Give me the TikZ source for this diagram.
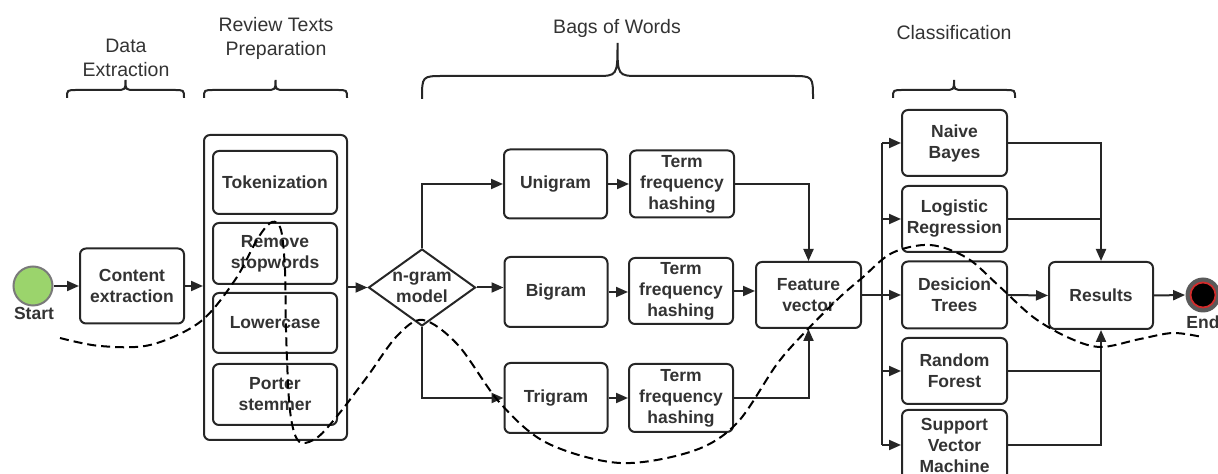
\documentclass[tikz,border=0pt]{standalone}
\usepackage{fontspec}
\setmainfont{Liberation Sans}
\usetikzlibrary{shapes.geometric,arrows.meta}

\definecolor{linegray}{HTML}{262626}
\definecolor{textgray}{HTML}{333333}
\definecolor{startgreen}{HTML}{9BD46C}
\definecolor{startrim}{HTML}{7A7A7A}
\definecolor{ringgray}{HTML}{5A5A5A}
\definecolor{endred}{HTML}{D22B2B}

\newcommand\boxfont{\fontsize{8.75}{10.5}\selectfont\bfseries}
\newcommand\headfont{\fontsize{9.75}{12}\selectfont}

% curly brace opening downwards: x1, x2, y of the ends, y of the flat part, y of the tip, corner radius
\newcommand\drawbrace[6]{%
  \draw[bracestyle] (#1,#3) .. controls (#1,#4) .. ({#1+#6},#4)
    -- ({(#1+#2)/2-#6},#4) .. controls ({(#1+#2)/2},#4) .. ({(#1+#2)/2},#5)
    .. controls ({(#1+#2)/2},#4) .. ({(#1+#2)/2+#6},#4)
    -- ({#2-#6},#4) .. controls (#2,#4) .. (#2,#3);}

\tikzset{
  stepbox/.style={draw=linegray, line width=1pt, rounded corners=3pt, inner sep=0pt,
    align=center, text=textgray, font=\boxfont},
  arr/.style={draw=linegray, line width=1pt, -{Triangle[length=6pt,width=5pt]}},
  link/.style={draw=linegray, line width=1pt},
  header/.style={align=center, text=textgray, font=\headfont, inner sep=0pt},
  bracestyle/.style={draw=linegray, line width=1pt},
  flow/.style={draw=black, line width=1pt, dash pattern=on 4.5pt off 2.5pt},
  lbl/.style={text=textgray, font=\boxfont, inner sep=0pt},
}

\begin{document}
\begin{tikzpicture}[x=0.5pt,y=-0.5pt]
\useasboundingbox (0,0) rectangle (1218,474);

% stage headings and braces
\node[header] (hdata) at (126,58) {Data\\Extraction};
\node[header] (hprep) at (276,38) {Review Texts\\Preparation};
\node[header] (hbow)  at (617,28) {Bags of Words};
\node[header] (hcls)  at (954,33) {Classification};
\drawbrace{67}{184}{98}{90}{80}{10}
\drawbrace{204}{347}{98}{90}{80}{10}
\drawbrace{422}{813}{99}{76}{43}{22}
\drawbrace{893}{1015}{98}{90}{80}{10}

% start event
\node[circle, draw=startrim, line width=1pt, fill=startgreen, minimum size=19.5pt, inner sep=0pt] (start) at (33,286) {};
\node[lbl] (startlbl) at (34,313) {Start};

% data extraction
\node[stepbox, minimum width=52pt, minimum height=37.5pt] (content) at (132,286) {Content\\extraction};

% review texts preparation
\node[stepbox, minimum width=71.5pt, minimum height=152.5pt] (prep) at (275.5,287.5) {};
\node[stepbox, minimum width=62pt, minimum height=31.5pt] (token) at (275,182.5) {Tokenization};
\node[stepbox, minimum width=62pt, minimum height=30.5pt] (stop)  at (275,253.5) {Remove\\stopwords};
\node[stepbox, minimum width=62pt, minimum height=30pt]   (lower) at (275,323)   {Lowercase};
\node[stepbox, minimum width=62pt, minimum height=30.5pt] (porter) at (275,394.5) {Porter\\stemmer};

% n-gram decision
\node[diamond, draw=linegray, line width=1pt, minimum width=53.5pt, minimum height=38.5pt, inner sep=0pt] (ngram) at (422,287.5) {};
\node[lbl, align=center] (ngramlbl) at (422,287.5) {n-gram\\model};

% bags of words
\node[stepbox, minimum width=51.5pt, minimum height=34.5pt] (uni) at (555.5,184) {Unigram};
\node[stepbox, minimum width=51.5pt, minimum height=35pt]   (bi)  at (556,292)   {Bigram};
\node[stepbox, minimum width=51.5pt, minimum height=35pt]   (tri) at (556,398)   {Trigram};
\node[stepbox, minimum width=52pt, minimum height=33.5pt] (tfa) at (682,184) {Term\\frequency\\hashing};
\node[stepbox, minimum width=52pt, minimum height=33pt]   (tfb) at (681,291) {Term\\frequency\\hashing};
\node[stepbox, minimum width=52pt, minimum height=34pt]   (tfc) at (681,398) {Term\\frequency\\hashing};
\node[stepbox, minimum width=52.5pt, minimum height=33pt] (feat) at (808.5,295) {Feature\\vector};

% classifiers
\node[stepbox, minimum width=52.5pt, minimum height=33pt] (nb)  at (954.5,143) {Naive\\Bayes};
\node[stepbox, minimum width=52.5pt, minimum height=33pt] (lr)  at (954.5,219) {Logistic\\Regression};
\node[stepbox, minimum width=52.5pt, minimum height=33.5pt] (dt)  at (954.5,295) {Desicion\\Trees};
\node[stepbox, minimum width=52.5pt, minimum height=33pt] (rf)  at (954.5,371) {Random\\Forest};
\node[stepbox, minimum width=52.5pt, minimum height=35pt] (svm) at (954.5,445) {Support\\Vector\\Machine};
\node[stepbox, minimum width=52pt, minimum height=33.5pt] (res) at (1101,295.5) {Results};

% end event
\node[circle, fill=ringgray, minimum size=17.5pt, inner sep=0pt] (end) at (1203,295) {};
\node[circle, draw=endred, line width=0.9pt, fill=black, minimum size=12.5pt, inner sep=0pt] (endcore) at (end) {};
\node[lbl] (endlbl) at (1203,322) {End};

% main flow
\draw[arr] (start) -- (content);
\draw[arr] (content.east) -- (content.east -| prep.west);
\draw[arr] (prep.east) -- (ngram.west);
\draw[arr] (ngram.north) |- (uni.west);
\draw[arr] (ngram.east) -- (ngram.east -| bi.west);
\draw[arr] (ngram.south) |- (tri.west);
\draw[arr] (uni) -- (tfa);
\draw[arr] (bi.east) -- (bi.east -| tfb.west);
\draw[arr] (tri) -- (tfc);
\draw[arr] (tfa.east) -| (feat.north);
\draw[arr] (tfb.east) -- (tfb.east -| feat.west);
\draw[arr] (tfc.east) -| (feat.south);

% fan out to the classifiers
\coordinate (bus) at (882,295);
\draw[link] (bus |- nb.west) -- (bus |- svm.west);
\draw[arr] (feat.east) -- (dt.west);
\draw[arr] (bus |- nb.west) -- (nb.west);
\draw[arr] (bus |- lr.west) -- (lr.west);
\draw[arr] (bus |- rf.west) -- (rf.west);
\draw[arr] (bus |- svm.west) -- (svm.west);

% collect the results
\draw[arr] (nb.east) -| (res.north);
\draw[link] (lr.east) -- (lr.east -| res.north);
\draw[arr] (dt.east) -- (res.west);
\draw[link] (rf.east) -- (rf.east -| res.south);
\draw[arr] (svm.east) -| (res.south);
\draw[arr] (res.east) -- (end.west);

% dashed path winding through the pipeline
\draw[flow] plot[smooth, tension=0.55] coordinates {
  (60,338) (100,346) (150,345) (200,322) (235,280) (258,238) (272,222) (281,230)
  (285,270) (286,330) (289,400) (294,432) (302,443) (318,437) (338,415) (367,377)
  (397,336) (423,320) (458,345) (500,403) (547,443) (620,463) (693,451) (737,423)
  (777,364) (807,330) (840,297) (862,278) (892,253) (930,245) (967,258) (1000,287)
  (1033,317) (1067,337) (1100,347) (1140,339) (1173,333) (1202,337)};
\end{tikzpicture}
\end{document}
